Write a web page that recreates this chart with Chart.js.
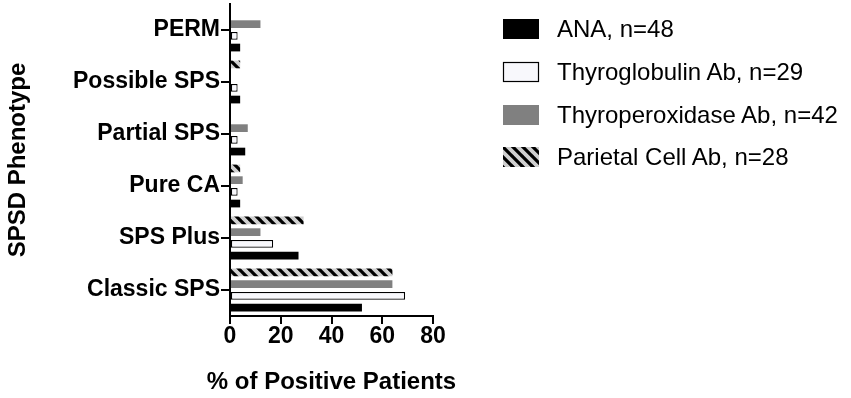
<!DOCTYPE html>
<html>
<head>
<meta charset="utf-8">
<script src="https://cdn.jsdelivr.net/npm/chart.js@4.4.1/dist/chart.umd.min.js"></script>
<style>
  body { margin: 0; background: #fff; }
  #wrap { position: relative; width: 851px; height: 398px; }
  #legend { position: absolute; left: 502px; top: 8px; font-family: "Liberation Sans", Arial, sans-serif; font-size: 24px; color: #000; }
  .item { display: flex; align-items: center; height: 42.7px; }
  .item canvas { margin-right: 17px; }
</style>
</head>
<body>
<div id="wrap">
  <canvas id="chart" width="851" height="398"></canvas>
  <div id="legend"></div>
</div>
<script>
// phenotypes, top to bottom
const phenotypes = ["PERM", "Possible SPS", "Partial SPS", "Pure CA", "SPS Plus", "Classic SPS"];

// % of positive patients per phenotype
const ana = [4, 4, 6, 4, 27, 52];
const thyroglobulin = [3, 3, 3, 3, 17, 69];
const thyroperoxidase = [12, 0, 7, 5, 12, 64];
const parietal = [0, 4, 0, 4, 29, 64];

const xTicks = [0, 20, 40, 60, 80];
const xTitle = "% of Positive Patients";

const fontFam = '"Liberation Sans", Arial, sans-serif';

// grey with black diagonal stripes
function hatch() {
  const s = 10;
  const c = document.createElement("canvas");
  c.width = s; c.height = s;
  const g = c.getContext("2d");
  g.fillStyle = "#cfcfcf";
  g.fillRect(0, 0, s, s);
  g.strokeStyle = "#000";
  g.lineWidth = 3.2;
  g.beginPath();
  for (let k = -1; k <= 1; k++) {
    g.moveTo(k * s - 1, -1);
    g.lineTo(k * s + s + 1, s + 1);
  }
  g.stroke();
  return g.createPattern(c, "repeat");
}

const series = [
  { label: "ANA, n=48", data: ana, backgroundColor: "#000000", borderWidth: 0 },
  { label: "Thyroglobulin Ab, n=29", data: thyroglobulin, backgroundColor: "#f8f8fc", borderColor: "#000", borderWidth: 1.2, borderSkipped: false },
  { label: "Thyroperoxidase Ab, n=42", data: thyroperoxidase, backgroundColor: "#808080", borderWidth: 0 },
  { label: "Parietal Cell Ab, n=28", data: parietal, backgroundColor: hatch(), borderWidth: 0 },
];

// the scale title gets squeezed to the plot width, so draw it here instead
const xTitlePlugin = {
  id: "xTitle",
  afterDraw(chart) {
    const { ctx, chartArea } = chart;
    ctx.save();
    ctx.font = "bold 24px " + fontFam;
    ctx.fillStyle = "#000";
    ctx.textAlign = "center";
    ctx.textBaseline = "middle";
    ctx.fillText(xTitle, (chartArea.left + chartArea.right) / 2, 382);
    ctx.restore();
  },
};

const chart = new Chart(document.getElementById("chart"), {
  type: "bar",
  data: {
    labels: phenotypes,
    // first dataset sits at the top of each group
    datasets: series.slice().reverse().map(s => Object.assign({ categoryPercentage: 0.9, barPercentage: 0.66 }, s)),
  },
  plugins: [xTitlePlugin],
  options: {
    indexAxis: "y",
    responsive: false,
    animation: false,
    layout: { padding: { left: 0, top: 4, right: 418, bottom: 0 } },
    plugins: { legend: { display: false }, tooltip: { enabled: false } },
    scales: {
      x: {
        min: 0,
        max: 80,
        afterBuildTicks: scale => { scale.ticks = xTicks.map(v => ({ value: v })); },
        afterFit: scale => { scale.height = 82; },
        border: { color: "#000", width: 2 },
        grid: { drawOnChartArea: false, color: "#000", lineWidth: 2, tickLength: 8 },
        ticks: { color: "#000", padding: -1, font: { family: fontFam, size: 23, weight: "bold" } },
      },
      y: {
        afterFit: scale => { scale.width = 230; scale.paddingTop = 0; scale.paddingBottom = 0; },
        border: { color: "#000", width: 2 },
        grid: { offset: false, drawOnChartArea: false, color: "#000", lineWidth: 2, tickLength: 9 },
        ticks: { color: "#000", padding: 1, font: { family: fontFam, size: 23, weight: "bold" } },
        title: {
          display: true,
          text: "SPSD Phenotype",
          color: "#000",
          padding: { top: 4, bottom: 0 },
          font: { family: fontFam, size: 24, weight: "bold" },
        },
      },
    },
  },
});

// legend, in the original series order
const legend = document.getElementById("legend");
series.forEach(s => {
  const row = document.createElement("div");
  row.className = "item";
  const sw = document.createElement("canvas");
  sw.width = 38; sw.height = 22;
  const g = sw.getContext("2d");
  g.fillStyle = s.backgroundColor;
  g.fillRect(1, 1, 36, 20);
  if (s.borderColor) {
    g.strokeStyle = s.borderColor;
    g.lineWidth = 1.2;
    g.strokeRect(1.5, 1.5, 35, 19);
  }
  row.appendChild(sw);
  const t = document.createElement("span");
  t.textContent = s.label;
  row.appendChild(t);
  legend.appendChild(row);
});
</script>
</body>
</html>
